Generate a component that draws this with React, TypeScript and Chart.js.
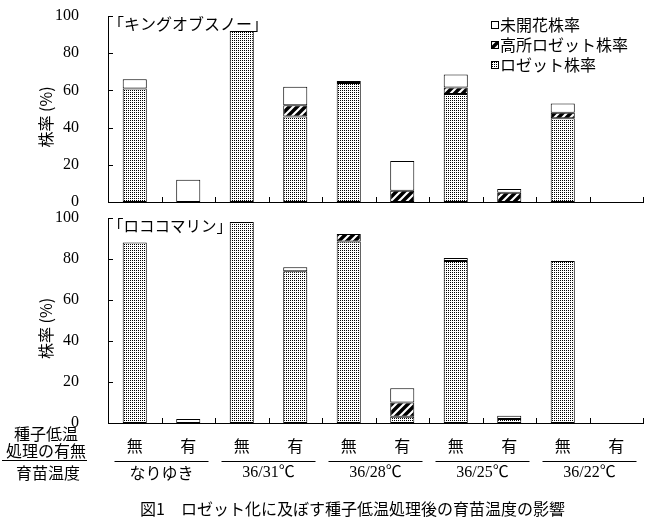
import React, { useEffect, useRef } from "react";
import { Chart, registerables } from "chart.js";

Chart.register(...registerables);

// ---------- data ----------
const categories = ["無", "有", "無", "有", "無", "有", "無", "有", "無", "有"];
const groupLabels = ["なりゆき", "36/31℃", "36/28℃", "36/25℃", "36/22℃"];
const yTicks = [0, 20, 40, 60, 80, 100];
const seriesNames = ["ロゼット株率", "高所ロゼット株率", "未開花株率"];

const kingRosette = [61, null, 92, 46, 64, null, 58, null, 45, null];
const kingHigh = [null, null, null, 6, null, 6, 3.5, 5, 3, null];
const kingUnopened = [5, 12, null, 10, 1, 16, 7, 2, 5, null];

const rococoRosette = [88, null, 98, 74, 88.5, 3, 79, 2, 79, null];
const rococoHigh = [null, null, null, null, 3.7, 7, null, null, null, null];
const rococoUnopened = [null, 2, null, 2, null, 7, 1.5, 1.5, null, null];

const panelTitles = ["「キングオブスノー」", "「ロココマリン」"];
const yAxisTitle = "株率 (%)";
const rowLabels = ["種子低温", "処理の有無", "育苗温度"];
const caption = "図1　ロゼット化に及ぼす種子低温処理後の育苗温度の影響";

const JP = "'Noto Sans CJK JP', 'Noto Sans', sans-serif";
const NUM = "'Liberation Serif', 'Noto Sans CJK JP', serif";

function makeDots(): CanvasPattern | string {
  const c = document.createElement("canvas");
  c.width = 2;
  c.height = 2;
  const g = c.getContext("2d");
  if (!g) return "#bbb";
  g.fillStyle = "#fff";
  g.fillRect(0, 0, 2, 2);
  g.fillStyle = "#000";
  g.fillRect(0, 0, 1, 1);
  return g.createPattern(c, "repeat") || "#bbb";
}

function makeHatch(): CanvasPattern | string {
  const c = document.createElement("canvas");
  c.width = 8;
  c.height = 8;
  const g = c.getContext("2d");
  if (!g) return "#333";
  g.fillStyle = "#000";
  g.fillRect(0, 0, 8, 8);
  g.strokeStyle = "#fff";
  g.lineWidth = 2.2;
  g.beginPath();
  g.moveTo(-2, 10);
  g.lineTo(10, -2);
  g.moveTo(-6, 6);
  g.lineTo(6, -6);
  g.moveTo(2, 14);
  g.lineTo(14, 2);
  g.stroke();
  return g.createPattern(c, "repeat") || "#333";
}

const decoPlugin = {
  id: "deco",
  afterDraw(chart: any, _args: any, opts: any) {
    const { ctx, chartArea } = chart;
    const xs = chart.scales.x;
    const ys = chart.scales.y;
    ctx.save();
    ctx.strokeStyle = "#000";
    ctx.lineWidth = 1;
    ctx.fillStyle = "#000";
    // inward y ticks
    ctx.beginPath();
    for (const v of yTicks) {
      const py = Math.round(ys.getPixelForValue(v)) + 0.5;
      ctx.moveTo(ys.right, py);
      ctx.lineTo(ys.right + 5, py);
    }
    // inward x ticks at category boundaries
    const step = xs.getPixelForValue(1) - xs.getPixelForValue(0);
    const ax = Math.round(chartArea.bottom);
    for (let i = 0; i <= categories.length; i++) {
      const px = Math.round(xs.getPixelForValue(0) - step / 2 + i * step) + 0.5;
      ctx.moveTo(px, ax);
      ctx.lineTo(px, ax - 5);
    }
    ctx.stroke();

    // y-axis title
    ctx.save();
    ctx.translate(46, (chartArea.top + chartArea.bottom) / 2 + 8);
    ctx.rotate(-Math.PI / 2);
    ctx.textAlign = "center";
    ctx.textBaseline = "middle";
    ctx.font = "16px " + JP;
    ctx.fillText(yAxisTitle, 0, 0);
    ctx.restore();

    // panel title
    ctx.textAlign = "left";
    ctx.textBaseline = "middle";
    ctx.font = (opts.titleSize || 16) + "px " + JP;
    ctx.fillText(opts.title, chartArea.left, chartArea.top + 8);

    // legend
    if (opts.legend) {
      const ds = chart.data.datasets.slice().reverse();
      ctx.font = "16px " + JP;
      ds.forEach((d: any, i: number) => {
        const cy = 25 + i * 20;
        ctx.fillStyle = d.backgroundColor;
        ctx.fillRect(491, cy - 4, 8, 8);
        ctx.strokeStyle = "#000";
        ctx.strokeRect(491.5, cy - 3.5, 7, 7);
        ctx.fillStyle = "#000";
        ctx.fillText(d.label, 500, cy);
      });
    }

    // bottom group labels
    if (opts.bottom) {
      const b = chartArea.bottom;
      ctx.font = "16px " + JP;
      ctx.textAlign = "center";
      ctx.textBaseline = "middle";
      ctx.fillText(rowLabels[0], 46, b + 11);
      ctx.fillText(rowLabels[1], 46, b + 28);
      ctx.fillText(rowLabels[2], 48, b + 50);
      ctx.beginPath();
      ctx.moveTo(2, Math.round(b + 37) + 0.5);
      ctx.lineTo(87, Math.round(b + 37) + 0.5);
      groupLabels.forEach((_g, k) => {
        const cx = (xs.getPixelForValue(2 * k) + xs.getPixelForValue(2 * k + 1)) / 2;
        ctx.moveTo(cx - 47, Math.round(b + 38) + 0.5);
        ctx.lineTo(cx + 47, Math.round(b + 38) + 0.5);
      });
      ctx.stroke();
      groupLabels.forEach((g, k) => {
        const cx = (xs.getPixelForValue(2 * k) + xs.getPixelForValue(2 * k + 1)) / 2;
        ctx.font = "16px " + (k === 0 ? JP : NUM);
        ctx.fillText(g, cx, b + 50);
      });
    }
    ctx.restore();
  },
};

function makeConfig(
  rosette: (number | null)[],
  high: (number | null)[],
  unopened: (number | null)[],
  opts: { title: string; titleSize: number; legend: boolean; bottom: boolean; padTop: number; padBottom: number; xHeight: number },
  dots: any,
  hatch: any
): any {
  const common = {
    borderColor: "#000",
    borderWidth: 1,
    borderSkipped: false,
    barPercentage: 0.45,
    categoryPercentage: 1,
  };
  return {
    type: "bar",
    data: {
      labels: categories,
      datasets: [
        { label: seriesNames[0], data: rosette, backgroundColor: dots, ...common },
        { label: seriesNames[1], data: high, backgroundColor: hatch, ...common },
        { label: seriesNames[2], data: unopened, backgroundColor: "#fff", ...common },
      ],
    },
    options: {
      animation: false,
      responsive: false,
      maintainAspectRatio: false,
      devicePixelRatio: 1,
      layout: { padding: { top: opts.padTop, right: 14, left: 0, bottom: opts.padBottom } },
      plugins: {
        legend: { display: false },
        tooltip: { enabled: false },
        deco: { title: opts.title, titleSize: opts.titleSize, legend: opts.legend, bottom: opts.bottom },
      },
      scales: {
        x: {
          stacked: true,
          grid: { display: false },
          border: { display: true, color: "#000", width: 1 },
          ticks: {
            display: opts.bottom,
            color: "#000",
            font: { family: JP, size: 16 },
            padding: 5,
            maxRotation: 0,
            autoSkip: false,
          },
          afterFit: (s: any) => {
            s.height = opts.xHeight;
            s.paddingLeft = 0;
            s.paddingRight = 0;
          },
        },
        y: {
          stacked: true,
          min: 0,
          max: 100,
          ticks: { stepSize: 20, color: "#000", font: { family: NUM, size: 16 }, padding: 21 },
          grid: { display: false },
          border: { display: true, color: "#000", width: 1 },
          afterFit: (s: any) => {
            s.width = 108;
            s.paddingTop = 0;
            s.paddingBottom = 0;
          },
        },
      },
    },
    plugins: [decoPlugin],
  };
}

export default function App() {
  const topRef = useRef<HTMLCanvasElement>(null);
  const botRef = useRef<HTMLCanvasElement>(null);

  useEffect(() => {
    document.body.style.margin = "0";
    const dots = makeDots();
    const hatch = makeHatch();
    const c1 = new Chart(
      topRef.current as HTMLCanvasElement,
      makeConfig(
        kingRosette,
        kingHigh,
        kingUnopened,
        { title: panelTitles[0], titleSize: 16, legend: true, bottom: false, padTop: 16, padBottom: 6, xHeight: 0 },
        dots,
        hatch
      )
    );
    const c2 = new Chart(
      botRef.current as HTMLCanvasElement,
      makeConfig(
        rococoRosette,
        rococoHigh,
        rococoUnopened,
        { title: panelTitles[1], titleSize: 15.5, legend: false, bottom: true, padTop: 10, padBottom: 0, xHeight: 99 },
        dots,
        hatch
      )
    );
    return () => {
      c1.destroy();
      c2.destroy();
    };
  }, []);

  return (
    <div style={{ position: "relative", width: 657, height: 522, background: "#fff", overflow: "hidden" }}>
      <canvas
        ref={topRef}
        width={657}
        height={208}
        style={{ position: "absolute", left: 0, top: 0, width: 657, height: 208 }}
      />
      <canvas
        ref={botRef}
        width={657}
        height={314}
        style={{ position: "absolute", left: 0, top: 208, width: 657, height: 314 }}
      />
      <div
        style={{
          position: "absolute",
          left: 140,
          top: 498,
          font: "16px " + JP,
          lineHeight: "20px",
          whiteSpace: "nowrap",
          color: "#000",
        }}
      >
        {caption}
      </div>
    </div>
  );
}
